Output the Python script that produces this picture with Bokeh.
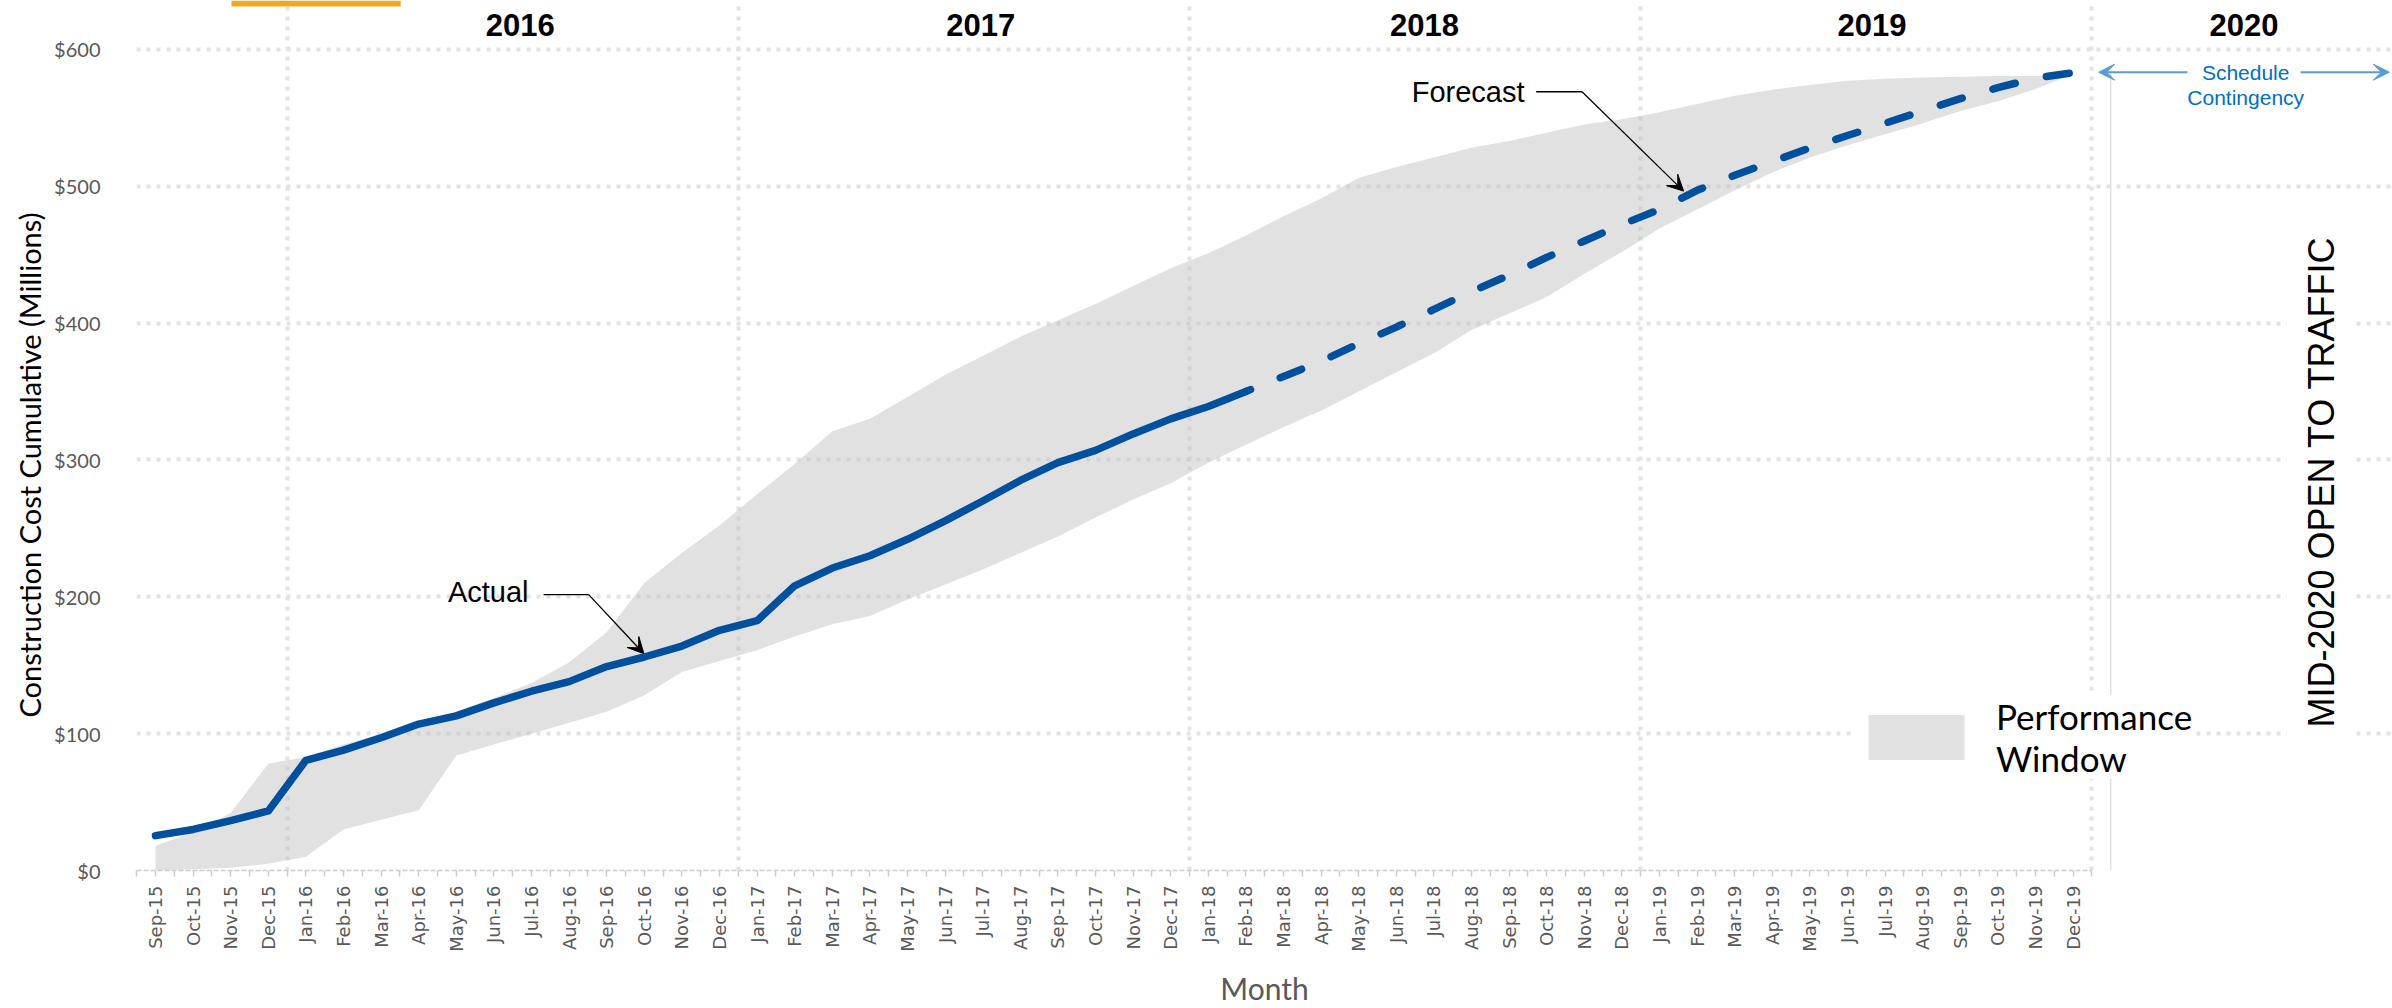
import math
from bokeh.plotting import figure
from bokeh.models import (FixedTicker, NumeralTickFormatter, Label, Arrow, VeeHead,
                          BoxAnnotation, Legend, LegendItem, ColumnDataSource, Range1d, Title)
from bokeh.core.properties import value
from bokeh.embed import file_html
from bokeh.resources import INLINE

# ---------------- data ----------------
months = ["Sep-15", "Oct-15", "Nov-15", "Dec-15",
          "Jan-16", "Feb-16", "Mar-16", "Apr-16", "May-16", "Jun-16",
          "Jul-16", "Aug-16", "Sep-16", "Oct-16", "Nov-16", "Dec-16",
          "Jan-17", "Feb-17", "Mar-17", "Apr-17", "May-17", "Jun-17",
          "Jul-17", "Aug-17", "Sep-17", "Oct-17", "Nov-17", "Dec-17",
          "Jan-18", "Feb-18", "Mar-18", "Apr-18", "May-18", "Jun-18",
          "Jul-18", "Aug-18", "Sep-18", "Oct-18", "Nov-18", "Dec-18",
          "Jan-19", "Feb-19", "Mar-19", "Apr-19", "May-19", "Jun-19",
          "Jul-19", "Aug-19", "Sep-19", "Oct-19", "Nov-19", "Dec-19"]

# cumulative actual cost, Sep-15 .. Feb-18 ($M)
actual = [25.5, 30, 36.5, 43.5, 80.5, 88, 97, 107, 113, 122.5, 131, 138,
          149, 156, 164, 175.5, 182.5, 208, 221, 230, 242, 255.5, 270, 285,
          298, 307, 319, 330, 339, 350]

# forecast, Feb-18 .. Dec-19 ($M)
forecast = [350, 361, 372, 385, 397, 410, 423, 435, 448, 460, 472, 483,
            497, 508, 518, 528, 537, 546, 555, 564, 572, 579, 583]

# performance window (upper / lower bound), Sep-15 .. Dec-19 ($M)
window_upper = [18, 28, 42, 78, 83, 92, 100, 109, 116, 126, 137, 152,
                174, 210, 232, 252, 275, 297, 321, 330, 346, 362, 376, 390,
                402, 414, 427, 440, 451, 464, 478, 491, 506, 514, 521, 528,
                533, 539, 545, 549, 554, 560, 566, 570.5, 574, 577, 578.5, 579.5,
                580, 580.5, 580.5, 582]
window_lower = [0, 1, 2, 5, 10, 30, 37, 44, 84, 92, 100, 108,
                116, 128, 145, 153, 161, 171, 180, 186, 198, 209, 220, 232,
                244, 258, 271, 283, 298, 311, 324, 336, 350, 364, 378, 395,
                407, 419, 436, 452, 469, 483, 497, 510, 521, 530, 538, 546,
                555, 562, 571, 582]

years = ["2016", "2017", "2018", "2019", "2020"]
year_first_month = ["Jan-16", "Jan-17", "Jan-18", "Jan-19", "Jan-20"]
y_ticks = [0, 100, 200, 300, 400, 500, 600]

# ---------------- layout constants ----------------
N = len(months)
xs = list(range(N))
PX_PER_MONTH = 37.6
PX_PER_UNIT = 1.37333
FIG_W, FIG_H = 2392, 1008
BORDER_L, BORDER_B = 136, 135
X_START = (BORDER_L - 155) / PX_PER_MONTH
X_END = X_START + (FIG_W - BORDER_L) / PX_PER_MONTH
Y_END = (FIG_H - BORDER_B) / PX_PER_UNIT

BLUE = "#00509E"
GRID = "#e3e3e3"
GREY_TXT = "#595959"

p = figure(width=FIG_W, height=FIG_H, output_backend="svg", toolbar_location=None,
           x_range=Range1d(X_START, X_END), y_range=Range1d(0, Y_END),
           min_border_left=BORDER_L, min_border_right=0, min_border_top=0,
           min_border_bottom=BORDER_B)
p.outline_line_color = None
p.background_fill_color = "white"
p.border_fill_color = "white"

# grids
boundaries = [months.index(m) - 0.5 if m in months else N - 0.5 for m in year_first_month]
p.xgrid.ticker = FixedTicker(ticks=boundaries)
p.ygrid.ticker = FixedTicker(ticks=y_ticks[1:])
for g in (p.xgrid, p.ygrid):
    g.grid_line_color = GRID
    g.grid_line_width = 4
    g.grid_line_dash = "4 6"

# x axis
xa = p.xaxis[0]
xa.ticker = FixedTicker(ticks=xs, minor_ticks=[i - 0.5 for i in range(N + 1)])
xa.major_label_overrides = {i: m for i, m in enumerate(months)}
xa.major_label_orientation = math.pi / 2
xa.major_label_text_font = "DejaVu Sans"
xa.major_label_text_font_size = "18px"
xa.major_label_text_color = GREY_TXT
xa.major_label_standoff = 9
xa.axis_line_color = "#cccccc"
xa.axis_line_width = 1.5
xa.axis_line_dash = "5 2"
xa.major_tick_line_color = "#cccccc"
xa.minor_tick_line_color = "#cccccc"
xa.major_tick_line_width = 1.5
xa.minor_tick_line_width = 1.5
xa.major_tick_out = 6
xa.major_tick_in = 0
xa.minor_tick_out = 6
xa.minor_tick_in = 0
xa.bounds = (-0.5, N - 0.5)
xa.axis_label = "Month"
xa.axis_label_text_font = "Lato"
xa.axis_label_text_font_size = "30px"
xa.axis_label_text_font_style = "normal"
xa.axis_label_text_color = GREY_TXT
xa.axis_label_standoff = 15

# y axis
ya = p.yaxis[0]
ya.ticker = FixedTicker(ticks=y_ticks)
ya.formatter = NumeralTickFormatter(format="$0")
ya.major_label_text_font = "Lato"
ya.major_label_text_font_size = "20px"
ya.major_label_text_color = GREY_TXT
ya.major_label_standoff = 30
ya.axis_line_color = None
ya.major_tick_line_color = None
ya.minor_tick_line_color = None

# y title: starts just above the $100 level
p.add_layout(Title(text="Construction Cost Cumulative (Millions)", align="left",
                   offset=153, text_font="Lato", text_font_size="29px",
                   text_font_style="normal", text_color="black", standoff=10), "left")

# performance window band
src = ColumnDataSource(dict(x=xs, lower=window_lower, upper=window_upper))
band = p.varea(x="x", y1="lower", y2="upper", source=src,
               fill_color="#bdbdbd", fill_alpha=0.45)

# actual + forecast lines
n_act = len(actual)
p.line(xs[:n_act], actual, line_color=BLUE, line_width=7.5,
       line_join="round", line_cap="round")
p.line(xs[n_act - 1:], forecast, line_color=BLUE, line_width=7.5,
       line_dash="23 32", line_dash_offset=18, line_join="round", line_cap="round")

# thin schedule line at Jan-20
SCHED_Y = 583.3
p.segment(x0=[N], y0=[0], x1=[N], y1=[SCHED_Y], line_color="#e0e0e0", line_width=1.5)

# year labels
year_shift = [0.2, 0.45, 0.25, 0.15, 0.05]
year_centers = []
for i in range(len(boundaries)):
    right = boundaries[i + 1] if i + 1 < len(boundaries) else X_END
    year_centers.append((boundaries[i] + right) / 2 + year_shift[i])
p.text(x=year_centers, y=[618] * len(years), text=years,
       text_font=value("Liberation Sans"), text_font_style="bold",
       text_font_size="31px", text_color="black",
       text_align="center", text_baseline="middle")

# orange decoration at top
p.add_layout(BoxAnnotation(left=2.02, right=6.52, bottom=Y_END - 4.4,
                           fill_color="#F0A823", fill_alpha=1, line_color=None))

# annotations: Actual / Forecast
ANN_FONT = "Liberation Sans"
p.add_layout(Label(x=9.92, y=203.5, text="Actual", text_font=ANN_FONT,
                   text_font_size="29px", text_color="black",
                   text_align="right", text_baseline="middle"))
p.segment(x0=[10.32], y0=[201.6], x1=[11.52], y1=[201.6], line_color="black", line_width=1.3)
p.add_layout(Arrow(end=VeeHead(size=16, fill_color="black", line_color="black", line_width=1),
                   x_start=11.52, y_start=201.6, x_end=12.99, y_end=158.4,
                   line_color="black", line_width=1.3))

p.add_layout(Label(x=36.41, y=568.5, text="Forecast", text_font=ANN_FONT,
                   text_font_size="29px", text_color="black",
                   text_align="right", text_baseline="middle"))
p.segment(x0=[36.72], y0=[569], x1=[37.94], y1=[569], line_color="black", line_width=1.3)
p.add_layout(Arrow(end=VeeHead(size=16, fill_color="black", line_color="black", line_width=1),
                   x_start=37.94, y_start=569, x_end=40.64, y_end=496.4,
                   line_color="black", line_width=1.3))

# schedule contingency
LBLUE = "#5B9BD5"
p.add_layout(Arrow(end=VeeHead(size=16, fill_color=LBLUE, line_color=LBLUE, line_width=1),
                   x_start=54.04, y_start=SCHED_Y, x_end=51.68, y_end=SCHED_Y,
                   line_color=LBLUE, line_width=2))
p.add_layout(Arrow(end=VeeHead(size=16, fill_color=LBLUE, line_color=LBLUE, line_width=1),
                   x_start=57.05, y_start=SCHED_Y, x_end=59.41, y_end=SCHED_Y,
                   line_color=LBLUE, line_width=2))
p.add_layout(Label(x=55.59, y=583.2, text="Schedule", text_font="Liberation Sans",
                   text_font_size="21px", text_color="#0070C0",
                   text_align="center", text_baseline="middle"))
p.add_layout(Label(x=55.59, y=565, text="Contingency", text_font="Liberation Sans",
                   text_font_size="21px", text_color="#0070C0",
                   text_align="center", text_baseline="middle"))

# vertical note
p.add_layout(Label(x=57.6, y=284, text="MID-2020 OPEN TO TRAFFIC", angle=math.pi / 2,
                   text_font="Liberation Sans", text_font_size="36px", text_color="black",
                   text_align="center", text_baseline="middle",
                   background_fill_color="white", background_fill_alpha=1.0, padding=14))

# legend
legend = Legend(items=[LegendItem(label="Performance\nWindow", renderers=[band])],
                location=(1720, 91), background_fill_color="white", background_fill_alpha=1.0,
                border_line_color=None, label_text_font="Lato", label_text_font_size="35px",
                label_text_color="black", glyph_width=120, glyph_height=56,
                label_standoff=20, padding=12, margin=0)
p.add_layout(legend)

open("out.html", "w").write(file_html(p, INLINE))
